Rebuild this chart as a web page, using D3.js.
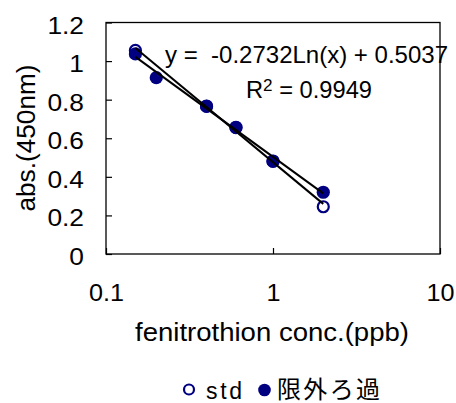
<!DOCTYPE html>
<html>
<head>
<meta charset="utf-8">
<script src="https://cdn.jsdelivr.net/npm/d3@7"></script>
<style>
  html, body { margin: 0; padding: 0; background: #fff; }
  svg { display: block; }
  text { font-family: "Liberation Sans", Arial, sans-serif; fill: #000; }
</style>
</head>
<body>
<svg id="chart" width="456" height="403"></svg>
<script>
// Concentration ticks (log axis) and absorbance ticks
const xTicks = [0.1, 1, 10];
const yTicks = [0, 0.2, 0.4, 0.6, 0.8, 1, 1.2];

// Standard solution series
const stdConc = [0.15, 0.4, 0.6, 1, 2];
const stdAbs  = [1.055, 0.765, 0.655, 0.48, 0.245];

// Ultrafiltered series (限外ろ過)
const ufConc = [0.15, 0.2, 0.4, 0.6, 1, 2];
const ufAbs  = [1.037, 0.914, 0.767, 0.657, 0.482, 0.32];

// Logarithmic trendline reported for the ultrafiltered series
const ufSlope = -0.2732;
const ufIntercept = 0.5037;
const ufR2 = 0.9949;

const navy = "#000080";
const svg = d3.select("#chart");

const plotL = 106, plotR = 440, plotT = 22.5, plotB = 254;
const x = d3.scaleLog().domain([0.1, 10]).range([plotL, plotR]);
const y = d3.scaleLinear().domain([0, 1.2]).range([plotB, plotT]);

// Least-squares fit of y = a*ln(x) + b
function logFit(xs, ys) {
  const L = xs.map(Math.log);
  const mL = d3.mean(L), mY = d3.mean(ys);
  let sxy = 0, sxx = 0;
  L.forEach((l, i) => { sxy += (l - mL) * (ys[i] - mY); sxx += (l - mL) * (l - mL); });
  const a = sxy / sxx;
  return { slope: a, intercept: mY - a * mL };
}
const stdFit = logFit(stdConc, stdAbs);

// Slightly widen glyphs of a text selection
function widen(sel, k) {
  sel.each(function () {
    const w = this.getComputedTextLength();
    d3.select(this).attr("textLength", w * k).attr("lengthAdjust", "spacingAndGlyphs");
  });
}

// Plot frame
svg.append("rect")
  .attr("x", plotL).attr("y", plotT)
  .attr("width", plotR - plotL).attr("height", plotB - plotT)
  .attr("fill", "none").attr("stroke", "#000").attr("stroke-width", 1.3);

// Y axis: inward ticks, labels on the left
const yAxis = d3.axisLeft(y).tickValues(yTicks).tickSizeInner(-6).tickSizeOuter(0)
  .tickFormat(d3.format("~g"));
const gy = svg.append("g").attr("transform", `translate(${plotL},0)`).call(yAxis);
gy.select(".domain").remove();
gy.selectAll(".tick line").attr("stroke", "#000").attr("stroke-width", 1.2);
gy.selectAll(".tick text")
  .attr("x", -22).attr("dy", null).attr("y", 10.5)
  .attr("text-anchor", "end")
  .style("font-family", "'Liberation Sans', Arial, sans-serif")
  .style("font-size", "23.5px")
  .call(widen, 1.12);

// X axis: inward ticks, labels below
const xAxis = d3.axisBottom(x).tickValues(xTicks).tickSizeInner(-6).tickSizeOuter(0)
  .tickFormat(d3.format("~g"));
const gx = svg.append("g").attr("transform", `translate(0,${plotB})`).call(xAxis);
gx.select(".domain").remove();
gx.selectAll(".tick line").attr("stroke", "#000").attr("stroke-width", 1.2);
gx.selectAll(".tick text")
  .attr("y", 47).attr("dy", null)
  .style("font-family", "'Liberation Sans', Arial, sans-serif")
  .style("font-size", "24px")
  .call(widen, 1.05);

// Axis titles
svg.append("text")
  .attr("x", 272).attr("y", 341)
  .attr("text-anchor", "middle")
  .attr("textLength", 274).attr("lengthAdjust", "spacingAndGlyphs")
  .style("font-size", "26px")
  .text("fenitrothion conc.(ppb)");

svg.append("text")
  .attr("transform", "translate(35,138) rotate(-90)")
  .attr("text-anchor", "middle")
  .attr("textLength", 147).attr("lengthAdjust", "spacingAndGlyphs")
  .style("font-size", "26px")
  .text("abs.(450nm)");

// Markers: standard (open) beneath ultrafiltered (filled)
svg.append("g").selectAll("circle")
  .data(d3.zip(stdConc, stdAbs))
  .join("circle")
  .attr("cx", d => x(d[0])).attr("cy", d => y(d[1]))
  .attr("r", 5.5)
  .attr("fill", "#fff").attr("stroke", navy).attr("stroke-width", 2.2);

svg.append("g").selectAll("circle")
  .data(d3.zip(ufConc, ufAbs))
  .join("circle")
  .attr("cx", d => x(d[0])).attr("cy", d => y(d[1]))
  .attr("r", 6.6)
  .attr("fill", navy);

// Trendlines (straight on a log axis)
const trend = (fit, xs) => {
  const x0 = d3.min(xs), x1 = d3.max(xs);
  return [[x0, fit.slope * Math.log(x0) + fit.intercept],
          [x1, fit.slope * Math.log(x1) + fit.intercept]];
};
const line = d3.line().x(d => x(d[0])).y(d => y(d[1]));
svg.append("path")
  .attr("d", line(trend(stdFit, stdConc)))
  .attr("fill", "none").attr("stroke", "#000").attr("stroke-width", 2);
svg.append("path")
  .attr("d", line(trend({ slope: ufSlope, intercept: ufIntercept }, ufConc)))
  .attr("fill", "none").attr("stroke", "#000").attr("stroke-width", 2);

// Trendline equation and R²
svg.append("text")
  .attr("x", 165).attr("y", 63)
  .attr("xml:space", "preserve")
  .attr("textLength", 283).attr("lengthAdjust", "spacingAndGlyphs")
  .style("font-size", "24px")
  .style("white-space", "pre")
  .text(`y =  ${ufSlope}Ln(x) + ${ufIntercept}`);

const r2 = svg.append("text")
  .attr("x", 246).attr("y", 98)
  .style("font-size", "23.5px")
  .style("white-space", "pre");
r2.append("tspan").text("R");
r2.append("tspan").attr("dy", -7.5).style("font-size", "17px").text("2");
r2.append("tspan").attr("dy", 7.5).text(` = ${ufR2}`);
r2.attr("textLength", 126).attr("lengthAdjust", "spacingAndGlyphs");

// Legend
const legendY = 389.5;
svg.append("circle")
  .attr("cx", 189).attr("cy", legendY).attr("r", 5)
  .attr("fill", "#fff").attr("stroke", navy).attr("stroke-width", 2.2);
svg.append("text")
  .attr("x", 206).attr("y", 398.5)
  .attr("textLength", 36).attr("lengthAdjust", "spacing")
  .style("font-family", "'Liberation Sans Narrow', 'Liberation Sans', sans-serif")
  .style("font-size", "23px")
  .text("std");
svg.append("circle")
  .attr("cx", 264.5).attr("cy", 390).attr("r", 6.3)
  .attr("fill", navy);
svg.append("text")
  .attr("x", 277).attr("y", 397.5)
  .attr("textLength", 103).attr("lengthAdjust", "spacing")
  .style("font-family", "'Noto Sans CJK JP', sans-serif")
  .style("font-size", "24px")
  .text("限外ろ過");
</script>
</body>
</html>
